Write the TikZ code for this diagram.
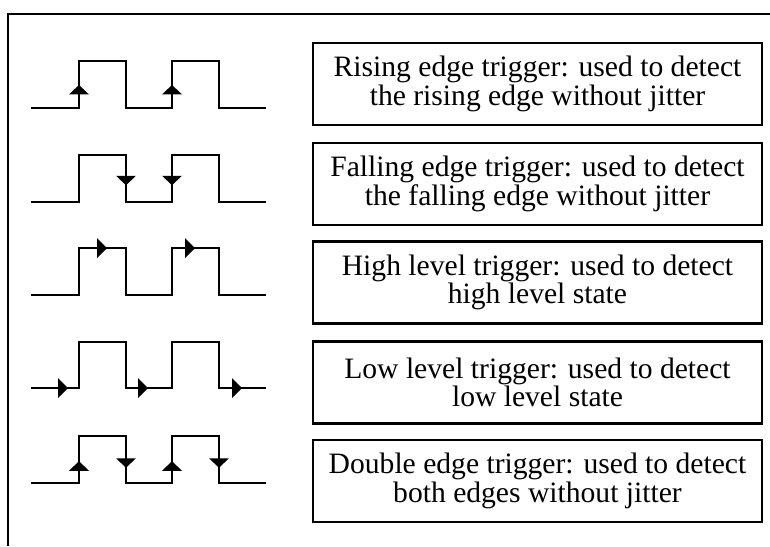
\documentclass[tikz,border=0pt]{standalone}
\usepackage{fontspec}
\setmainfont{Liberation Serif}
\begin{document}
\begin{tikzpicture}[x=0.75pt,y=-0.75pt,
  wave/.style={line width=1.4pt,line join=miter},
  frame/.style={line width=1.1pt},
  descbox/.style={draw,line width=1.7pt,align=center,minimum width=336.75pt,minimum height=61.5pt,inner sep=0pt,
    font=\fontsize{22.2pt}{18pt}\selectfont},
  trigup/.pic={\fill (-10,4.75) -- (0,-4.75) -- (10,4.75) -- cycle;},
  trigdown/.pic={\fill (-10,-4.75) -- (0,4.75) -- (10,-4.75) -- cycle;},
  trigright/.pic={\fill (-5,-10) -- (5,0) -- (-5,10) -- cycle;}]
\useasboundingbox (0,0) rectangle (770,546);
% outer frame
\draw[frame] (8,546) -- (8,14) -- (770,14);
% waveform 1: rising edge
\draw[wave] (31,108) -- (79,108) -- (79,61) -- (126,61) -- (126,108) -- (172,108) -- (172,61) -- (219,61) -- (219,108) -- (266,108);
\pic at (79,89.7) {trigup};
\pic at (172,89.7) {trigup};
% waveform 2: falling edge
\draw[wave] (31,201.7) -- (79,201.7) -- (79,155) -- (126,155) -- (126,201.7) -- (172,201.7) -- (172,155) -- (219,155) -- (219,201.7) -- (266,201.7);
\pic at (126,180.5) {trigdown};
\pic at (172,180.5) {trigdown};
% waveform 3: high level
\draw[wave] (31,295) -- (79,295) -- (79,248) -- (126,248) -- (126,295) -- (172,295) -- (172,248) -- (219,248) -- (219,295) -- (266,295);
\pic at (102,248) {trigright};
\pic at (190,248) {trigright};
% waveform 4: low level
\draw[wave] (31,388) -- (79,388) -- (79,341.7) -- (126,341.7) -- (126,388) -- (172,388) -- (172,341.7) -- (219,341.7) -- (219,388) -- (266,388);
\pic at (63,388) {trigright};
\pic at (143,388) {trigright};
\pic at (237,388) {trigright};
% waveform 5: double edge
\draw[wave] (31,482.7) -- (79,482.7) -- (79,436) -- (126,436) -- (126,482.7) -- (172,482.7) -- (172,436) -- (219,436) -- (219,482.7) -- (266,482.7);
\pic at (79,466) {trigup};
\pic at (172,466) {trigup};
\pic at (126,463) {trigdown};
\pic at (219,463) {trigdown};
% description boxes
\node[descbox] (b1) at (537.5,84) {Rising edge trigger: used to detect\\the rising edge without jitter};
\node[descbox] (b2) at (537.5,184) {Falling edge trigger: used to detect\\the falling edge without jitter};
\node[descbox] (b3) at (537.5,282.5) {High level trigger: used to detect\\high level state};
\node[descbox] (b4) at (537.5,382.5) {Low level trigger: used to detect\\low level state};
\node[descbox] (b5) at (537.5,481) {Double edge trigger: used to detect\\both edges without jitter};
\end{tikzpicture}
\end{document}
